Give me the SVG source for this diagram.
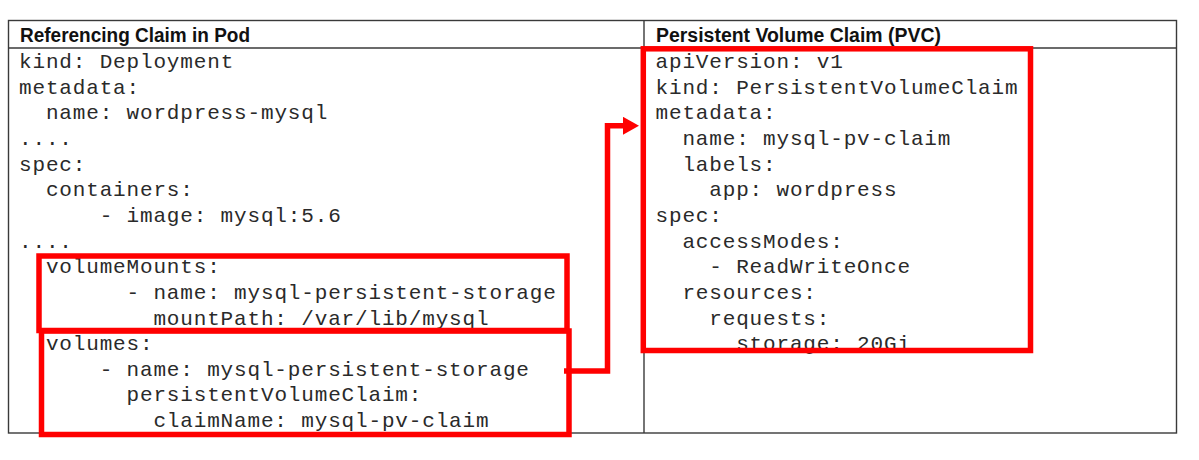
<svg xmlns="http://www.w3.org/2000/svg" width="1199" height="460" viewBox="0 0 1199 460">
  <defs>
    <style>
      .grid { fill: none; stroke: #3a3a3a; stroke-width: 1.4; }
      .hdr { font-family: "Liberation Sans", Arial, sans-serif; font-weight: bold; font-size: 19.5px; fill: #111; }
      .code { font-family: "Liberation Mono", "Courier New", monospace; font-size: 21px; letter-spacing: 0.84px; fill: #2a2a2a; }
      .hl { fill: none; stroke: #ff0000; stroke-width: 5.5; }
      .conn { fill: none; stroke: #ff0000; stroke-width: 5.5; stroke-linejoin: miter; }
    </style>
    <marker id="arrow" viewBox="0 0 16 18" refX="1" refY="9" markerWidth="16" markerHeight="18" markerUnits="userSpaceOnUse" orient="auto">
      <path d="M0,0 L16,9 L0,18 z" fill="#ff0000"/>
    </marker>
  </defs>
  <rect width="1199" height="460" fill="#ffffff"/>

  <g id="table">
    <rect class="grid" x="8.5" y="20.5" width="1168" height="412.5"/>
    <line class="grid" x1="8.5" y1="48" x2="1176.5" y2="48"/>
    <line class="grid" x1="644" y1="20.5" x2="644" y2="433"/>
    <text class="hdr" x="20" y="41.5" textLength="230" lengthAdjust="spacingAndGlyphs">Referencing Claim in Pod</text>
    <text class="hdr" x="656" y="41.5" textLength="285" lengthAdjust="spacingAndGlyphs">Persistent Volume Claim (PVC)</text>
  </g>

  <g id="node-pod">
    <text class="code" x="19" y="68">kind: Deployment</text>
    <text class="code" x="19" y="93.65">metadata:</text>
    <text class="code" x="45.88" y="119.3">name: wordpress-mysql</text>
    <text class="code" x="19" y="144.95">....</text>
    <text class="code" x="19" y="170.6">spec:</text>
    <text class="code" x="45.88" y="196.25">containers:</text>
    <text class="code" x="99.64" y="221.9">- image: mysql:5.6</text>
    <text class="code" x="19" y="247.55">....</text>
  </g>

  <g id="node-volumeMounts">
    <text class="code" x="45.88" y="273.2">volumeMounts:</text>
    <text class="code" x="126.52" y="298.85">- name: mysql-persistent-storage</text>
    <text class="code" x="153.4" y="324.5">mountPath: /var/lib/mysql</text>
    <rect class="hl" x="39" y="256" width="528" height="74.5"/>
  </g>

  <g id="node-volumes">
    <text class="code" x="45.88" y="350.15">volumes:</text>
    <text class="code" x="99.64" y="375.8">- name: mysql-persistent-storage</text>
    <text class="code" x="126.52" y="401.45">persistentVolumeClaim:</text>
    <text class="code" x="153.4" y="427.1">claimName: mysql-pv-claim</text>
    <rect class="hl" x="41.5" y="331" width="527.5" height="103.5"/>
  </g>

  <g id="node-pvc">
    <text class="code" x="655.5" y="68">apiVersion: v1</text>
    <text class="code" x="655.5" y="93.65">kind: PersistentVolumeClaim</text>
    <text class="code" x="655.5" y="119.3">metadata:</text>
    <text class="code" x="682.38" y="144.95">name: mysql-pv-claim</text>
    <text class="code" x="682.38" y="170.6">labels:</text>
    <text class="code" x="709.26" y="196.25">app: wordpress</text>
    <text class="code" x="655.5" y="221.9">spec:</text>
    <text class="code" x="682.38" y="247.55">accessModes:</text>
    <text class="code" x="709.26" y="273.2">- ReadWriteOnce</text>
    <text class="code" x="682.38" y="298.85">resources:</text>
    <text class="code" x="709.26" y="324.5">requests:</text>
    <text class="code" x="736.14" y="350.15">storage: 20Gi</text>
    <rect class="hl" x="643.3" y="48.8" width="387.2" height="301.7"/>
  </g>

  <g id="connectors">
    <path class="conn" d="M564,371 H607.5 V125.8 H624" marker-end="url(#arrow)"/>
  </g>
</svg>
